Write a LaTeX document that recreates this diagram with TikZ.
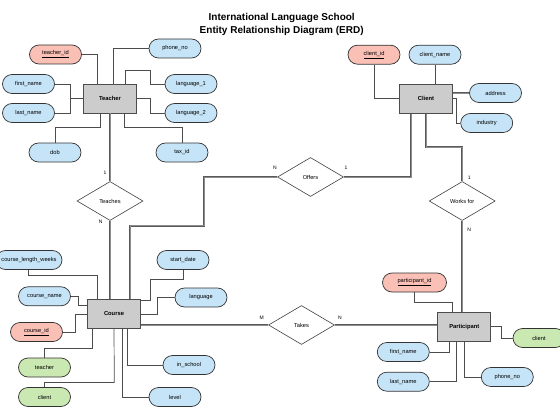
\documentclass[tikz,border=0pt]{standalone}
\usepackage{fontspec}
\setmainfont{Liberation Sans}
\usetikzlibrary{shapes.geometric}
\definecolor{erdPink}{RGB}{250,192,182}
\definecolor{erdBlue}{RGB}{198,228,247}
\definecolor{erdGreen}{RGB}{202,232,178}
\definecolor{erdGray}{RGB}{204,204,204}

\begin{document}
\begin{tikzpicture}[
  x=1pt, y=-1pt,
  entity/.style={
    draw=black!70,
    line width=0.8pt,
    fill=erdGray,
    minimum width=53pt,
    minimum height=29pt,
    inner sep=0pt,
    font=\fontsize{5.8}{7}\selectfont\bfseries
  },
  attr/.style={
    draw=black!80,
    line width=0.7pt,
    fill=erdBlue,
    rounded corners=9.5pt,
    minimum width=52pt,
    minimum height=19pt,
    inner sep=0pt,
    font=\fontsize{5.7}{7}\selectfont
  },
  key/.style={attr,fill=erdPink},
  derived/.style={attr,fill=erdGreen},
  relation/.style={
    diamond,
    draw=black!75,
    line width=0.6pt,
    fill=white,
    minimum width=66pt,
    minimum height=39pt,
    inner sep=0pt,
    font=\fontsize{5.7}{7}\selectfont
  },
  link/.style={draw=black!70,line width=0.7pt},
  rel/.style={draw=black!65,line width=0.5pt,double=black!45,double distance=0.8pt},
  card/.style={font=\fontsize{5}{6}\selectfont,inner sep=0pt}
]
  \useasboundingbox (0,0) rectangle (560,420);

  \node[align=center,font=\fontsize{10}{12.4}\selectfont\bfseries] (title) at (281.7,24.5)
    {International Language School\\Entity Relationship Diagram (ERD)};

  % entities
  \node[entity] (teacher) at (110,98.5) {Teacher};
  \node[entity] (course) at (114,314) {Course};
  \node[entity] (client) at (426,98.7) {Client};
  \node[entity] (participant) at (464.3,326.5) {Participant};

  % relationships
  \node[relation] (teaches) at (110,201) {Teaches};
  \node[relation] (offers) at (310.5,177) {Offers};
  \node[relation] (worksfor) at (462.2,201) {Works for};
  \node[relation] (takes) at (301.5,325) {Takes};

  % teacher attributes
  \node[key] (tid) at (55.5,54.5) {\underline{teacher\_id}};
  \node[attr] (tphone) at (175,48.5) {phone\_no};
  \node[attr] (tfirst) at (28.5,84) {first\_name};
  \node[attr] (tlast) at (28.5,113) {last\_name};
  \node[attr] (lang1) at (191,84) {language\_1};
  \node[attr] (lang2) at (191,113) {language\_2};
  \node[attr] (dob) at (55,152.5) {dob};
  \node[attr] (taxid) at (182,152.5) {tax\_id};

  % course attributes
  \node[attr,minimum width=66pt] (clw) at (29,260) {course\_length\_weeks};
  \node[attr] (cname) at (44.5,296.3) {course\_name};
  \node[key] (cid) at (36.5,332) {\underline{course\_id}};
  \node[derived] (cteacher) at (44.5,367.5) {teacher};
  \node[derived] (cclient) at (44.5,397) {client};
  \node[attr] (startd) at (183,260) {start\_date};
  \node[attr] (clang) at (201,297.5) {language};
  \node[attr] (inschool) at (189,365) {in\_school};
  \node[attr] (level) at (175,397) {level};

  % client attributes
  \node[key] (clid) at (374,54.7) {\underline{client\_id}};
  \node[attr] (clname) at (435,54.7) {client\_name};
  \node[attr] (address) at (495.5,93) {address};
  \node[attr] (industry) at (486.7,123) {industry};

  % participant attributes
  \node[key,minimum width=64pt] (pid) at (414.5,282.5) {\underline{participant\_id}};
  \node[derived] (pclient) at (539,338) {client};
  \node[attr] (pfirst) at (403.3,352) {first\_name};
  \node[attr] (plast) at (403.3,381.7) {last\_name};
  \node[attr] (pphone) at (507.3,377) {phone\_no};

  % attribute links
  \draw[link] (tid.east) -| ([xshift=-12.3pt]teacher.north);
  \draw[link] (tphone.west) -| ([xshift=3pt]teacher.north);
  \draw[link] ([xshift=15.7pt]teacher.north) |- ++(25,-13.3) |- (lang1.west);
  \draw[link] (teacher.east) -- ++(13.2,0) |- (lang2.west);
  \draw[link] (tfirst.east) -| ([xshift=-13.2pt]teacher.west) -- (teacher.west);
  \draw[link] (tlast.east) -| ([xshift=-13.2pt]teacher.west);
  \draw[link] (dob.north) |- ++(45,-15.3) -- ([xshift=-10pt]teacher.south);
  \draw[link] (taxid.north) |- ++(-58,-15.3) -- ([xshift=14pt]teacher.south);

  \draw[link] ([xshift=-0.7pt]clw.south) |- ++(69,5) -- ([xshift=-16.7pt]course.north);
  \draw[link] (cname.east) -| ([xshift=-8.5pt,yshift=9pt]course.west) -- ([yshift=9pt]course.west);
  \draw[link] (cid.east) -| ([xshift=-11.8pt]course.west) -- (course.west);
  \draw[link] (cteacher.north) |- ++(47.8,-9.7) -- ([xshift=-21.7pt]course.south);
  \draw[link] (cclient.north) |- ++(69.8,-4.7) -- (course.south);
  \draw[link] (startd.south) |- ++(-33,9.8) |- ([yshift=13.3pt]course.east);
  \draw[link] (clang.west) -| ([xshift=16.8pt]course.east) -- (course.east);
  \draw[link] (inschool.west) -| ([xshift=13.3pt]course.south);
  \draw[link] (level.west) -| ([xshift=8.7pt]course.south);

  \draw[link] (clid.south) |- (client.west);
  \draw[link] (clname.south) -- (clname.south |- client.north);
  \draw[rel] (client.east |- address.west) -- (address.west);
  \draw[link] (client.east) -- ++(3.7,0) |- (industry.west);

  \draw[link] (pid.south) |- ++(37.5,9.7) -- ([xshift=-12.3pt]participant.north);
  \draw[link] (participant.east) -- ++(10.2,0) |- (pclient.west);
  \draw[link] (pfirst.east) -| ([xshift=-15pt]participant.south);
  \draw[link] (plast.east) -| ([xshift=-7.6pt]participant.south);
  \draw[link] (pphone.west) -| (participant.south);

  % relationship links
  \draw[rel] (teacher.south) -- (teaches.north);
  \draw[rel] (teaches.south) -- (teaches.south |- course.north);
  \draw[rel] ([xshift=16pt]course.north) |- ++(74,-73.5) |- (offers.west);
  \draw[rel] (offers.east) -| ([xshift=-15pt]client.south);
  \draw[rel] (client.south) |- ([yshift=34pt]worksfor.north) -- (worksfor.north);
  \draw[rel] (worksfor.south) -- (worksfor.south |- participant.north);
  \draw[rel] (takes.west -| course.east) -- (takes.west);
  \draw[rel] (takes.east) -- (takes.east -| participant.west);

  % cardinalities
  \node[card] (teaches-1) at (105,172.7) {1};
  \node[card] (teaches-n) at (100.7,222) {N};
  \node[card] (offers-n) at (275,167.3) {N};
  \node[card] (offers-1) at (346,167.3) {1};
  \node[card] (worksfor-1) at (469.3,177.3) {1};
  \node[card] (worksfor-n) at (469.3,230) {N};
  \node[card] (takes-m) at (261.7,317.3) {M};
  \node[card] (takes-n) at (340,317.3) {N};
\end{tikzpicture}
\end{document}
